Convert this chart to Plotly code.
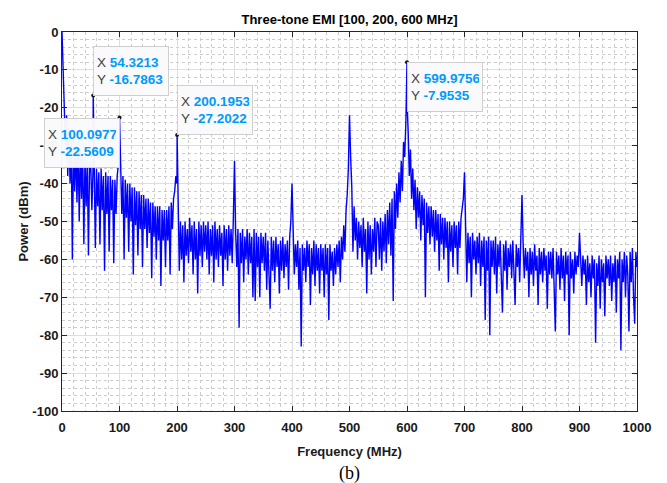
import plotly.graph_objects as go

# ---- data ----
bin_step_mhz = 2
power_bins = [
    # 0 - 48 MHz
    0, -12, -20, -30, -22, -38, -25, -40, -27, -60, -28, -42, -30, -45, -29, -50, -31, -44, -32, -56, -33, -46, -34, -59, -34,
    # 50 - 98
    -35, -47, -36, -38, -57, -36, -46, -37, -56, -36, -47, -38, -63, -37, -48, -38, -58, -38, -47, -39, -61, -39, -48, -38, -35,
    # 100 - 148
    -30, -35, -48, -38, -60, -39, -49, -40, -58, -40, -50, -41, -64, -41, -51, -42, -59, -42, -52, -43, -62, -43, -52, -44, -57,
    # 150 - 198
    -44, -53, -45, -65, -45, -54, -46, -60, -46, -55, -46, -67, -47, -55, -47, -62, -47, -55, -46, -64, -45, -52, -44, -42, -38,
    # 200 - 248
    -40, -52, -63, -50, -60, -51, -66, -50, -59, -52, -61, -49, -58, -51, -64, -50, -60, -52, -69, -50, -59, -51, -62, -50, -58,
    # 250 - 298
    -51, -60, -50, -64, -52, -59, -51, -66, -50, -60, -52, -62, -51, -59, -53, -67, -51, -60, -52, -63, -51, -59, -52, -61, -49,
    # 300 - 348
    -34, -53, -62, -52, -78, -53, -61, -52, -66, -54, -60, -52, -64, -53, -61, -54, -70, -52, -71, -53, -62, -54, -70, -53, -61,
    # 350 - 398
    -54, -63, -53, -68, -55, -62, -73, -54, -63, -55, -66, -54, -62, -56, -69, -55, -63, -54, -65, -56, -62, -55, -68, -54, -50,
    # 400 - 448
    -40, -55, -64, -56, -62, -55, -68, -57, -83, -56, -63, -57, -66, -55, -62, -56, -72, -57, -64, -55, -67, -56, -63, -57, -69,
    # 450 - 498
    -56, -63, -57, -70, -56, -64, -57, -76, -56, -63, -58, -67, -57, -64, -56, -62, -55, -66, -54, -60, -51, -58, -47, -43, -36,
    # 500 - 548
    -22, -33, -41, -58, -46, -55, -49, -60, -50, -57, -51, -62, -49, -58, -52, -69, -50, -60, -51, -64, -52, -58, -49, -62, -50,
    # 550 - 598
    -51, -60, -49, -63, -50, -58, -48, -61, -47, -56, -45, -59, -44, -71, -42, -52, -40, -49, -37, -45, -34, -42, -29, -33, -24,
    # 600 - 648
    -18, -26, -38, -31, -44, -36, -47, -39, -52, -41, -49, -42, -55, -43, -51, -44, -70, -45, -53, -46, -56, -46, -54, -47, -58,
    # 650 - 698
    -47, -55, -48, -63, -48, -56, -49, -60, -49, -57, -50, -66, -50, -58, -51, -62, -50, -57, -51, -64, -50, -57, -49, -47, -44,
    # 700 - 748
    -37, -52, -66, -53, -61, -54, -70, -53, -60, -55, -64, -54, -61, -53, -67, -55, -62, -54, -76, -55, -63, -54, -80, -55, -62,
    # 750 - 798
    -55, -64, -54, -69, -56, -62, -55, -66, -74, -56, -63, -55, -68, -57, -62, -56, -65, -55, -63, -72, -56, -62, -57, -66, -54,
    # 800 - 848
    -43, -56, -65, -57, -63, -58, -70, -57, -64, -58, -67, -56, -63, -59, -72, -57, -64, -58, -66, -57, -63, -59, -73, -58, -64,
    # 850 - 898
    -58, -65, -57, -70, -79, -58, -64, -59, -68, -57, -65, -59, -71, -58, -64, -59, -80, -58, -65, -60, -69, -58, -64, -59, -62,
    # 900 - 948
    -53, -60, -67, -59, -64, -60, -72, -59, -66, -61, -70, -59, -65, -60, -82, -61, -67, -59, -73, -60, -66, -61, -75, -59, -65,
    # 950 - 1000
    -60, -67, -59, -71, -61, -66, -59, -74, -60, -65, -58, -84, -60, -66, -58, -70, -59, -64, -79, -58, -66, -57, -70, -77, -58, -62,
]

tone_freq = [54.3213, 100.0977, 200.1953, 599.9756]
tone_power = [-16.7863, -22.5609, -27.2022, -7.9535]
tip_anchor = [("left", "bottom"), ("right", "top"), ("left", "bottom"), ("left", "top")]

x_ticks = list(range(0, 1001, 100))
y_ticks = list(range(-100, 1, 10))

title_text = "Three-tone EMI [100, 200, 600 MHz]"
x_label = "Frequency (MHz)"
y_label = "Power (dBm)"
caption = "(b)"

# ---- build the spectrum trace (bins + measured tone peaks) ----
bin_freq = [i * bin_step_mhz for i in range(len(power_bins))]
pts = sorted(list(zip(bin_freq, power_bins)) + list(zip(tone_freq, tone_power)))
freq = [p[0] for p in pts]
power = [p[1] for p in pts]

fig = go.Figure()
fig.add_trace(go.Scatter(x=freq, y=power, mode="lines",
                         line=dict(color="#0000ff", width=1.4),
                         hoverinfo="skip", showlegend=False))
fig.add_trace(go.Scatter(x=tone_freq, y=tone_power, mode="markers",
                         marker=dict(color="#1a1a1a", size=4),
                         hoverinfo="skip", showlegend=False))

font_family = "Arial, Liberation Sans, sans-serif"
axis_common = dict(
    ticks="inside", ticklen=5, tickcolor="#262626", tickwidth=1,
    showline=True, linecolor="#262626", linewidth=1, mirror="ticks",
    showgrid=True, gridcolor="#dedede", gridwidth=1, zeroline=False,
    automargin=False,
    tickfont=dict(family=font_family, size=13, color="#1a1a1a", weight="bold"),
)

fig.update_xaxes(range=[0, 1000], tickvals=x_ticks, ticktext=[str(v) for v in x_ticks],
                 ticklabelstandoff=4,
                 minor=dict(dtick=20, tick0=0, showgrid=True, gridcolor="#cccccc",
                            griddash="dot", gridwidth=1, ticks=""),
                 title=dict(text=x_label, standoff=13,
                            font=dict(family=font_family, size=13, color="#1a1a1a", weight="bold")),
                 **axis_common)
fig.update_yaxes(range=[-100, 0], tickvals=y_ticks, ticktext=[str(v) for v in y_ticks],
                 minor=dict(dtick=2, tick0=0, showgrid=True, gridcolor="#cccccc",
                            griddash="dot", gridwidth=1, ticks=""),
                 title=dict(text=y_label, standoff=0,
                            font=dict(family=font_family, size=13, color="#1a1a1a", weight="bold")),
                 **axis_common)

annotations = []
for fx, py, (xa, ya) in zip(tone_freq, tone_power, tip_anchor):
    txt = ("X <span style='color:#0099ff'><b>%.4f</b></span><br>"
           "Y <span style='color:#0099ff'><b>%.4f</b></span>" % (fx, py))
    annotations.append(dict(
        x=fx, y=py, xref="x", yref="y", text=txt, showarrow=False,
        xanchor=xa, yanchor=ya, align="left", valign="middle",
        width=68, height=42,
        font=dict(family=font_family, size=13.5, color="#404040"),
        bgcolor="rgba(250,250,252,0.97)", bordercolor="#cfcfcf", borderwidth=1, borderpad=3,
    ))
annotations.append(dict(
    x=0.5, y=-0.166, xref="paper", yref="paper", yanchor="middle", showarrow=False,
    text=caption, font=dict(family="Liberation Serif, Times New Roman, serif", size=18, color="#000000"),
))

fig.update_layout(
    width=667, height=483,
    margin=dict(l=62, r=30, t=32, b=72),
    paper_bgcolor="white", plot_bgcolor="white",
    title=dict(text=title_text, x=0.5, xref="paper", xanchor="center",
               y=1 - 19 / 483, yref="container", yanchor="middle",
               font=dict(family=font_family, size=13, color="#000000", weight="bold")),
    annotations=annotations,
)

fig.write_html("out.html", config={"displayModeBar": False},
               post_script="document.body.style.margin='0';")
